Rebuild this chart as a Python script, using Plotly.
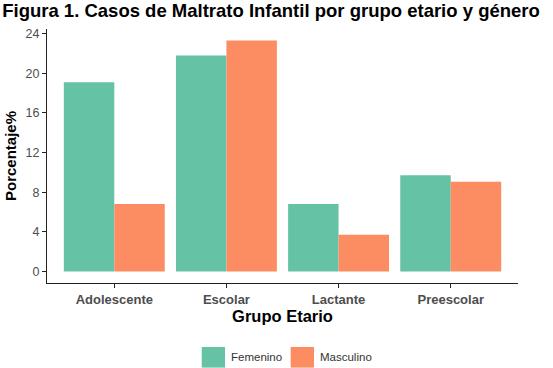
import plotly.graph_objects as go

categories = ["Adolescente", "Escolar", "Lactante", "Preescolar"]
femenino = [19.1, 21.8, 6.8, 9.7]
masculino = [6.8, 23.3, 3.7, 9.05]
y_ticks = [0, 4, 8, 12, 16, 20, 24]
series_names = ["Femenino", "Masculino"]
colors = ["#66C2A5", "#FC8D62"]

fig = go.Figure()
for name, vals, col in zip(series_names, [femenino, masculino], colors):
    fig.add_trace(go.Bar(x=categories, y=vals, name=name, marker_color=col,
                         marker_line_width=0, showlegend=False))

# custom legend (large square keys, as in the reference)
key_x = [(0.3285, 0.378), (0.5174, 0.5669)]
for (x0, x1), name, col in zip(key_x, series_names, colors):
    fig.add_shape(type="rect", xref="paper", yref="paper", x0=x0, x1=x1,
                  y0=-0.333, y1=-0.252, fillcolor=col, line_width=0)
    fig.add_annotation(xref="paper", yref="paper", x=x1 + 0.009, y=-0.291,
                       text=name, showarrow=False, xanchor="left", yanchor="middle",
                       font=dict(size=11.5, color="#333333", family="Liberation Sans, Arial, sans-serif"))

fig.update_layout(
    width=553, height=368,
    margin=dict(l=47, r=35, t=29, b=85, autoexpand=False),
    paper_bgcolor="white", plot_bgcolor="white",
    barmode="group", bargap=0.1, bargroupgap=0,
    title=dict(text="<b>Figura 1. Casos de Maltrato Infantil por grupo etario y género</b>",
               font=dict(family="Liberation Sans, Arial, sans-serif", size=18.5, color="black"),
               x=0.004, xanchor="left", y=0.99, yanchor="top"),
    font=dict(family="Liberation Sans, Arial, sans-serif"),
    showlegend=False,
)
fig.update_xaxes(
    range=[-0.6, 3.6], showline=True, linecolor="#222222", linewidth=1.2,
    ticks="outside", ticklen=4, tickcolor="#222222", automargin=False,
    tickfont=dict(size=13, color="#4d4d4d"),
    tickprefix="<b>", ticksuffix="</b>",
    title=dict(text="<b>Grupo Etario</b>", font=dict(size=16.5, color="black"), standoff=3),
    showgrid=False, zeroline=False,
)
fig.update_yaxes(
    range=[-1.165, 24.47], tickvals=y_ticks, showline=True, linecolor="#222222", linewidth=1.2,
    ticks="outside", ticklen=4, tickcolor="#222222", automargin=False,
    tickfont=dict(size=12.5, color="#4d4d4d"),
    tickprefix="<b>", ticksuffix="</b>",
    title=dict(text="<b>Porcentaje%</b>", font=dict(size=15, color="black"), standoff=5),
    showgrid=False, zeroline=False,
)
fig.write_html("out.html", config={"displayModeBar": False},
               post_script="document.body.style.margin='0';")
